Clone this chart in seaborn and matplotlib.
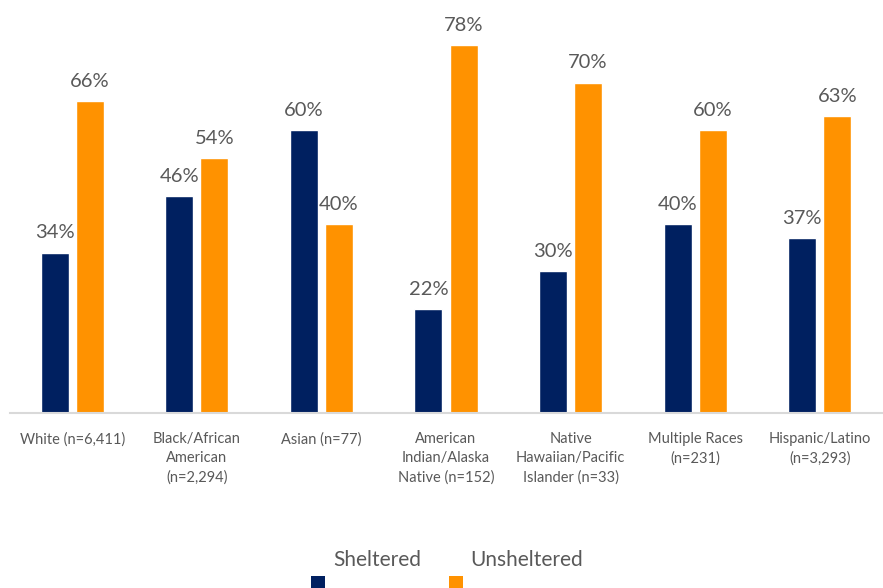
import matplotlib
matplotlib.use("Agg")
import matplotlib.pyplot as plt
import seaborn as sns
import pandas as pd
from matplotlib.patches import Rectangle

categories = ["White (n=6,411)", "Black/African\nAmerican\n(n=2,294)", "Asian (n=77)",
              "American\nIndian/Alaska\nNative (n=152)", "Native\nHawaiian/Pacific\nIslander (n=33)",
              "Multiple Races\n(n=231)", "Hispanic/Latino\n(n=3,293)"]
sheltered = [34, 46, 60, 22, 30, 40, 37]
unsheltered = [66, 54, 40, 78, 70, 60, 63]
series = ["Sheltered", "Unsheltered"]
colors = ["#002060", "#FF9200"]

df = pd.DataFrame({
    "cat": categories * 2,
    "series": [series[0]] * len(categories) + [series[1]] * len(categories),
    "value": sheltered + unsheltered,
})

sns.set_theme(style="white")
plt.rcParams['font.family'] = ['Lato', 'DejaVu Sans']
text_color = "#595959"

fig = plt.figure(figsize=(8.83, 5.88), dpi=100)
ax = fig.add_axes([10/883, (588-413)/588, 872/883, 413/588])
sns.barplot(data=df, x="cat", y="value", hue="series", palette=colors,
            width=0.562, gap=0.2, ax=ax, legend=False, saturation=1)

for cont in ax.containers:
    ax.bar_label(cont, labels=[f"{v:.0f}%" for v in cont.datavalues],
                 padding=8, fontsize=14.5, color=text_color)

ax.set_ylim(0, 87.5)
ax.set_xlim(-0.5, len(categories) - 0.5)
ax.set_xlabel("")
ax.set_ylabel("")
ax.set_yticks([])
for s in ["top", "right", "left"]:
    ax.spines[s].set_visible(False)
ax.spines["bottom"].set_color("#d9d9d9")
ax.spines["bottom"].set_linewidth(1.5)
ax.tick_params(axis="x", length=0, pad=14, labelsize=10.5, labelcolor=text_color)
for lbl in ax.get_xticklabels():
    lbl.set_linespacing(1.45)
    lbl.set_verticalalignment("top")

# legend: text above square markers
leg_text_x = [377/883, 527/883]
leg_sq_x = [311/883, 449/883]
for i, name in enumerate(series):
    fig.text(leg_text_x[i], 1 - 560/588, name, ha="center", va="center",
             fontsize=15, color=text_color)
    fig.add_artist(Rectangle((leg_sq_x[i], 0), 14/883, 12/588,
                             transform=fig.transFigure, facecolor=colors[i],
                             edgecolor="none"))

fig.savefig("out.png", dpi=100)
